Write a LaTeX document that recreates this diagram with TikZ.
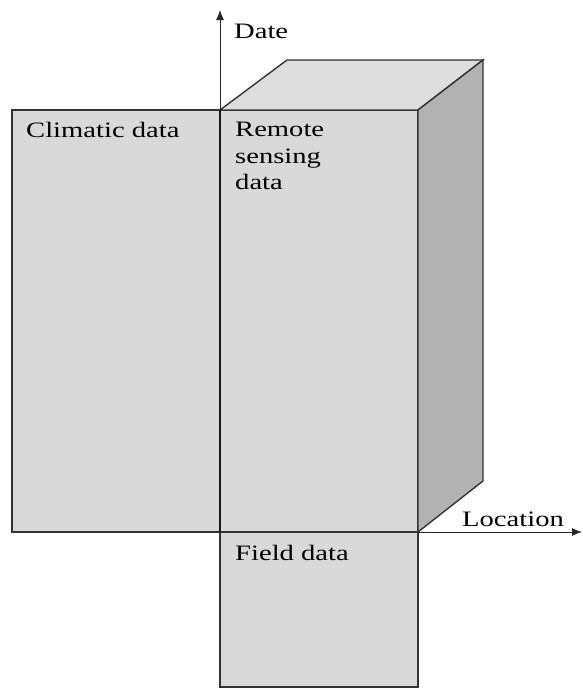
\documentclass[tikz,border=0pt]{standalone}
\usepackage{fontspec}
\setmainfont{Liberation Serif}
\usetikzlibrary{arrows.meta}
\newcommand{\wide}[1]{\scalebox{1.3}[1]{#1}}
\begin{document}
\begin{tikzpicture}[x=1pt,y=-1pt,
  face/.style={draw=black!80, line width=1.4pt, line join=miter},
  frontfill/.style={fill=black!15},
  topfill/.style={fill=black!13},
  sidefill/.style={fill=black!30},
  lbl/.style={font=\fontsize{22}{26.5}\selectfont, inner sep=0pt, anchor=north west, text=black, align=left},
  axis/.style={draw=black!85, line width=0.9pt, -{Latex[length=10pt,width=8pt]}}]
\useasboundingbox (0,0) rectangle (582,689);
% corners
\coordinate (O)  at (220,532);
\coordinate (FTL) at (220,110);
\coordinate (FTR) at (418,110);
\coordinate (FBR) at (418,532);
\coordinate (BTL) at (287,60);
\coordinate (BTR) at (483,60);
\coordinate (BBR) at (483,481);
\coordinate (CTL) at (12,110);
\coordinate (FDB) at (418,687);
\coordinate (DateEnd) at (220,10);
\coordinate (LocEnd) at (582,532);
% climatic data box
\draw[face,frontfill] (CTL) rectangle (O);
% remote sensing cube
\draw[face,frontfill] (FTL) rectangle (FBR);
\draw[face,topfill] (FTL) -- (BTL) -- (BTR) -- (FTR) -- cycle;
\draw[face,sidefill] (FTR) -- (BTR) -- (BBR) -- (FBR) -- cycle;
% field data box
\draw[face,frontfill] (O) rectangle (FDB);
% axes
\draw[axis] (O) -- (DateEnd);
\draw[axis] (FBR) -- (LocEnd);
\draw[draw=black!90, line width=2.8pt] (FTL) -- (O);
% labels
\node[lbl] (date) at (234,24) {\wide{Date}};
\node[lbl] (clim) at (26,122) {\wide{Climatic data}};
\node[lbl] (rs) at (235,122) {\wide{Remote}\\\wide{sensing}\\\wide{data}};
\node[lbl] (loc) at (462,512) {\wide{Location}};
\node[lbl] (field) at (235,545) {\wide{Field data}};
\end{tikzpicture}
\end{document}
